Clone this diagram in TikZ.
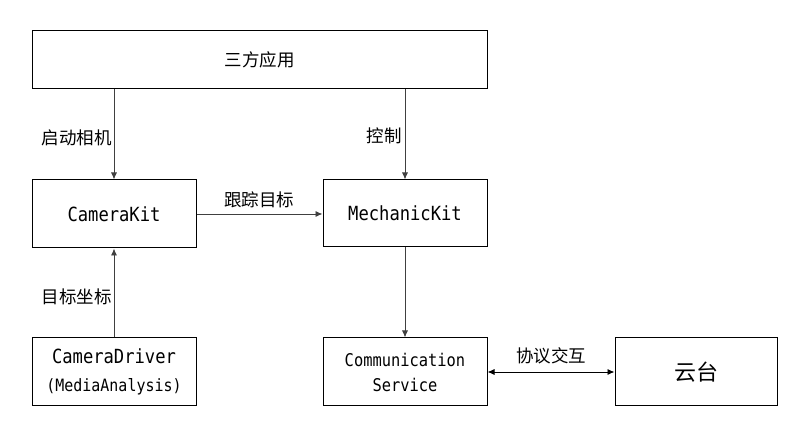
\documentclass[tikz,border=0pt]{standalone}
\usepackage{fontspec}
\newfontfamily\cjk{Noto Sans CJK SC}
\newfontfamily\lat[FakeStretch=0.88]{DejaVu Sans Mono}
\usetikzlibrary{arrows.meta}
\tikzset{
  box/.style={draw=black, line width=1pt, rectangle, inner sep=0pt, minimum width=164pt, minimum height=68pt, align=center},
  arr/.style={draw=black!75, line width=0.9pt, -{Latex[length=7pt,width=6pt]}},
  darr/.style={draw=black, line width=0.9pt, {Latex[length=7pt,width=6pt]}-{Latex[length=7pt,width=6pt]}},
  lbl/.style={inner sep=0pt, font=\cjk\fontsize{17.5}{20}\selectfont},
  mono/.style={font=\lat\fontsize{19.5}{22}\selectfont}
}
\begin{document}
\begin{tikzpicture}[x=1pt,y=-1pt]
\useasboundingbox[fill=white] (0,0) rectangle (807,435);
\node[box, minimum width=455pt, minimum height=58pt, font=\cjk\fontsize{17.5}{20}\selectfont] (top) at (259.5,60) {三方应用};
\node[box, mono] (ck) at (114,214) {CameraKit};
\node[box, mono, minimum height=67pt] (mk) at (405,213.5) {MechanicKit};
\node[box, font=\lat\fontsize{19.5}{28}\selectfont] (cd) at (114,372) {CameraDriver\\{\fontsize{17}{28}\selectfont (MediaAnalysis)}};
\node[box, font=\lat\fontsize{17.5}{25}\selectfont] (cs) at (405,372) {Communication\\Service};
\node[box, minimum width=162pt, font=\cjk\fontsize{22}{26}\selectfont] (yt) at (696,372) {云台};
\draw[arr] (top.south -| ck.north) -- (ck.north);
\draw[arr] (top.south -| mk.north) -- (mk.north);
\draw[arr] (ck.east) -- (ck.east -| mk.west);
\draw[arr] (cd.north) -- (ck.south);
\draw[arr] (mk.south) -- (mk.south |- cs.north);
\draw[darr] (cs.east) -- (yt.west);
\node[lbl, anchor=east] (l1) at (112,138) {启动相机};
\node[lbl, anchor=east] (l2) at (402,136) {控制};
\node[lbl] (l3) at (259,200) {跟踪目标};
\node[lbl, anchor=east] (l4) at (112,297) {目标坐标};
\node[lbl] (l5) at (551,356) {协议交互};
\end{tikzpicture}
\end{document}
